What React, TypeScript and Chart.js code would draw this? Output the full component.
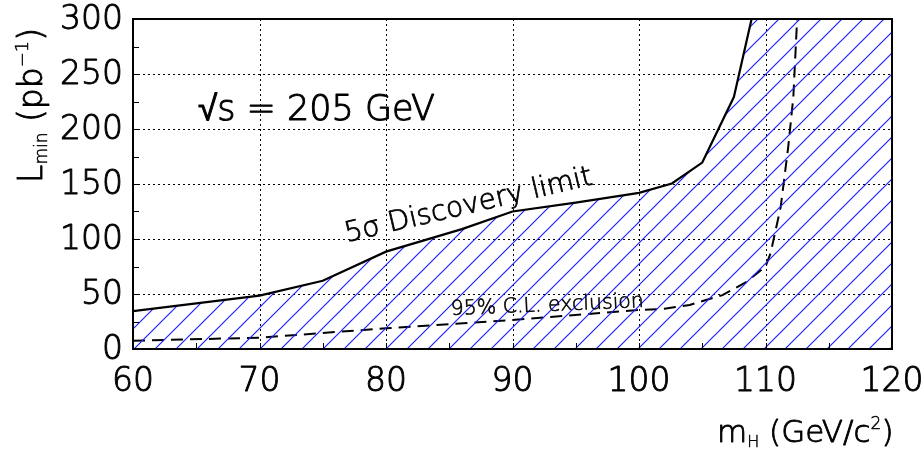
import React, { useEffect, useRef } from "react";
import { Chart, registerables } from "chart.js";

Chart.register(...registerables);

// 5 sigma discovery limit (solid)
const discoveryMass = [60, 70, 75, 80, 86, 90, 95, 100, 102.6, 105, 107.5, 108.9, 120];
const discoveryLumi = [34.5, 48.5, 62, 88.5, 109, 125, 133, 142, 150.5, 169.5, 229, 300, 300];

// 95% C.L. exclusion (dashed)
const exclusionMass = [60, 70, 80, 90, 100, 102, 104, 106.6, 108.5, 110, 110.4, 111.2, 111.8, 112.2, 112.5];
const exclusionLumi = [7.5, 10.3, 18.8, 26.4, 35.5, 36.5, 40, 49, 61, 75, 87, 129, 184, 229, 300];

const xTicks = [60, 70, 80, 90, 100, 110, 120];
const yTicks = [0, 50, 100, 150, 200, 250, 300];
const xMinorTicks = [65, 75, 85, 95, 105, 115];
const yMinorTicks = [25, 75, 125, 175, 225, 275];

const FONT = "'DejaVu Sans', sans-serif";
const W = 200;

function fillStrokeText(ctx: CanvasRenderingContext2D, t: string, x: number, y: number, sw: number) {
  ctx.fillText(t, x, y);
  ctx.lineWidth = sw;
  ctx.lineJoin = "round";
  ctx.strokeStyle = "#000";
  ctx.strokeText(t, x, y);
}

type Part = { t: string; size: number; dy?: number };

function drawRich(ctx: CanvasRenderingContext2D, parts: Part[], x: number, y: number, angleDeg: number) {
  ctx.save();
  ctx.translate(x, y);
  ctx.rotate((angleDeg * Math.PI) / 180);
  ctx.textAlign = "left";
  ctx.textBaseline = "alphabetic";
  ctx.fillStyle = "#000";
  let cx = 0;
  for (const p of parts) {
    ctx.font = `${W} ${p.size}px ${FONT}`;
    fillStrokeText(ctx, p.t, cx, p.dy || 0, p.size * 0.028);
    cx += ctx.measureText(p.t).width;
  }
  ctx.restore();
}

function makePattern(): CanvasPattern | string {
  const s = 21;
  const c = document.createElement("canvas");
  c.width = s;
  c.height = s;
  const g = c.getContext("2d");
  if (!g) return "rgba(40,40,255,0.3)";
  g.strokeStyle = "#2020ff";
  g.lineWidth = 1.2;
  g.beginPath();
  g.moveTo(-2, s + 2);
  g.lineTo(s + 2, -2);
  g.moveTo(-2, 2);
  g.lineTo(2, -2);
  g.moveTo(s - 2, s + 2);
  g.lineTo(s + 2, s - 2);
  g.stroke();
  const pat = g.createPattern(c, "repeat");
  return pat || "rgba(40,40,255,0.3)";
}

const framePlugin = {
  id: "rootFrame",
  beforeDatasetsDraw(chart: any) {
    const { ctx, chartArea: a, scales } = chart;
    const xs = scales.x;
    const ys = scales.y;
    ctx.save();
    ctx.strokeStyle = "#000";
    ctx.lineWidth = 1;
    ctx.setLineDash([2, 3]);
    for (const v of xTicks.slice(1, -1)) {
      const px = Math.round(xs.getPixelForValue(v)) + 0.5;
      ctx.beginPath();
      ctx.moveTo(px, a.top);
      ctx.lineTo(px, a.bottom);
      ctx.stroke();
    }
    for (const v of yTicks.slice(1, -1)) {
      const py = Math.round(ys.getPixelForValue(v)) + 0.5;
      ctx.beginPath();
      ctx.moveTo(a.left, py);
      ctx.lineTo(a.right, py);
      ctx.stroke();
    }
    ctx.restore();
  },
  afterDatasetsDraw(chart: any) {
    const { ctx, chartArea: a, scales } = chart;
    const xs = scales.x;
    const ys = scales.y;
    ctx.save();
    ctx.strokeStyle = "#000";
    ctx.setLineDash([]);
    ctx.lineWidth = 1;
    for (const v of [...xTicks, ...xMinorTicks]) {
      const px = Math.round(xs.getPixelForValue(v)) + 0.5;
      ctx.beginPath();
      ctx.moveTo(px, a.bottom);
      ctx.lineTo(px, a.bottom - 6);
      ctx.stroke();
    }
    for (const v of [...yTicks, ...yMinorTicks]) {
      const py = Math.round(ys.getPixelForValue(v)) + 0.5;
      ctx.beginPath();
      ctx.moveTo(a.left, py);
      ctx.lineTo(a.left + 6, py);
      ctx.stroke();
    }
    ctx.lineWidth = 2;
    ctx.strokeRect(a.left, a.top, a.right - a.left, a.bottom - a.top);
    ctx.restore();
  },
  afterDraw(chart: any) {
    const { ctx, chartArea: a, scales } = chart;
    const xs = scales.x;
    const ys = scales.y;
    ctx.save();
    ctx.fillStyle = "#000";
    ctx.font = `${W} 33px ${FONT}`;
    ctx.textAlign = "center";
    ctx.textBaseline = "middle";
    for (const v of xTicks) {
      fillStrokeText(ctx, String(v), xs.getPixelForValue(v), a.bottom + 33, 0.9);
    }
    ctx.textAlign = "right";
    for (const v of yTicks) {
      fillStrokeText(ctx, String(v), a.left - 10, ys.getPixelForValue(v) + 1, 0.9);
    }
    ctx.restore();

    // axis titles
    drawRich(
      ctx,
      [
        { t: "m", size: 31 },
        { t: "H", size: 16, dy: 5 },
        { t: " (GeV/c", size: 31 },
        { t: "2", size: 17, dy: -13 },
        { t: ")", size: 31 },
      ],
      717,
      442,
      0
    );
    drawRich(
      ctx,
      [
        { t: "L", size: 33 },
        { t: "min", size: 17, dy: 5 },
        { t: " (pb", size: 33 },
        { t: "\u22121", size: 18, dy: -14 },
        { t: ")", size: 33 },
      ],
      42,
      183,
      -90
    );

    // annotations
    drawRich(ctx, [{ t: "\u221As = 205 GeV", size: 35 }], 198, 120, 0);
    drawRich(ctx, [{ t: "5\u03c3 Discovery limit", size: 28 }], 347, 242, -13.2);
    drawRich(ctx, [{ t: "95% C.L. exclusion", size: 20.5 }], 451, 315, -2.4);
  },
};

export default function App() {
  const ref = useRef<HTMLCanvasElement | null>(null);

  useEffect(() => {
    document.body.style.margin = "0";
    const canvas = ref.current;
    if (!canvas) return;
    const pattern = makePattern();
    const chart = new Chart(canvas, {
      type: "line",
      data: {
        datasets: [
          {
            label: "5 sigma discovery",
            data: discoveryMass.map((m, i) => ({ x: m, y: discoveryLumi[i] })),
            borderColor: "#000",
            borderWidth: 2.2,
            backgroundColor: pattern as any,
            fill: "origin",
            pointRadius: 0,
            tension: 0,
          },
          {
            label: "95% CL exclusion",
            data: exclusionMass.map((m, i) => ({ x: m, y: exclusionLumi[i] })),
            borderColor: "#000",
            borderWidth: 2,
            borderDash: [12, 7],
            fill: false,
            pointRadius: 0,
            tension: 0,
          },
        ],
      },
      options: {
        responsive: false,
        animation: false,
        devicePixelRatio: 1,
        layout: { padding: { left: 0, top: 19, right: 29, bottom: 0 } },
        plugins: { legend: { display: false }, tooltip: { enabled: false } },
        scales: {
          x: {
            type: "linear",
            min: 60,
            max: 120,
            grid: { display: false },
            border: { display: false },
            ticks: { display: false, stepSize: 10 },
            afterFit: (s: any) => {
              s.height = 105;
            },
          },
          y: {
            type: "linear",
            min: 0,
            max: 300,
            grid: { display: false },
            border: { display: false },
            ticks: { display: false, stepSize: 50 },
            afterFit: (s: any) => {
              s.width = 133;
            },
          },
        },
      },
      plugins: [framePlugin],
    });
    return () => chart.destroy();
  }, []);

  return (
    <div style={{ width: 921, height: 454, background: "#fff" }}>
      <canvas ref={ref} width={921} height={454} />
    </div>
  );
}
